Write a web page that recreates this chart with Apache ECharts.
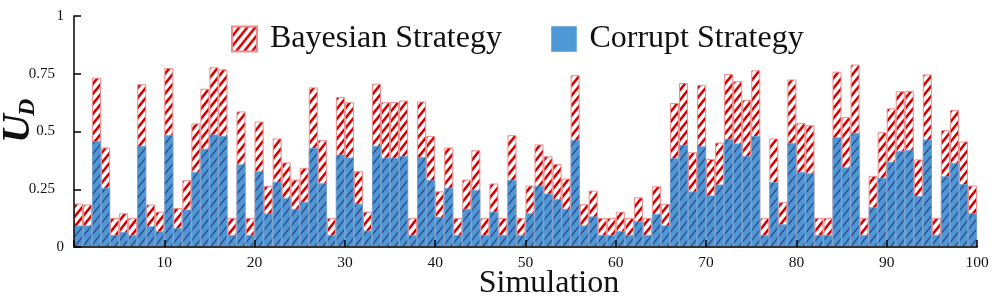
<!DOCTYPE html>
<html><head><meta charset="utf-8">
<script src="https://cdn.jsdelivr.net/npm/echarts@6/dist/echarts.min.js"></script>
<style>html,body{margin:0;padding:0;background:#fff}#c{width:997px;height:299px}</style>
</head><body><div id="c"></div>
<script>
const simulations = Array.from({length: 100}, (_, i) => String(i + 1));
const bayesian = [
  0.188,0.184,0.733,0.431,0.126,0.146,0.126,0.705,0.184,0.153,
  0.775,0.169,0.289,0.535,0.685,0.778,0.769,0.126,0.587,0.126,
  0.543,0.265,0.470,0.366,0.292,0.343,0.691,0.464,0.126,0.649,
  0.627,0.328,0.153,0.707,0.627,0.628,0.634,0.126,0.630,0.481,
  0.241,0.431,0.126,0.292,0.419,0.126,0.275,0.126,0.484,0.126,
  0.266,0.444,0.393,0.360,0.296,0.744,0.185,0.244,0.126,0.126,
  0.153,0.126,0.215,0.126,0.263,0.187,0.623,0.710,0.410,0.702,
  0.381,0.452,0.749,0.718,0.637,0.765,0.126,0.470,0.194,0.725,
  0.536,0.527,0.126,0.126,0.759,0.562,0.790,0.126,0.308,0.497,
  0.600,0.674,0.676,0.379,0.747,0.126,0.506,0.594,0.457,0.266
];
const corrupt = [
  0.093,0.093,0.458,0.256,0.052,0.065,0.052,0.438,0.090,0.069,
  0.484,0.081,0.162,0.325,0.425,0.487,0.481,0.052,0.358,0.052,
  0.328,0.145,0.282,0.212,0.165,0.195,0.429,0.276,0.052,0.400,
  0.387,0.187,0.071,0.438,0.386,0.386,0.393,0.052,0.389,0.289,
  0.130,0.256,0.052,0.165,0.247,0.052,0.153,0.052,0.290,0.052,
  0.146,0.265,0.231,0.207,0.165,0.464,0.093,0.132,0.052,0.052,
  0.069,0.052,0.111,0.052,0.143,0.093,0.385,0.442,0.240,0.436,
  0.223,0.270,0.468,0.448,0.394,0.480,0.052,0.281,0.098,0.451,
  0.325,0.319,0.052,0.052,0.475,0.344,0.494,0.052,0.172,0.299,
  0.369,0.416,0.419,0.221,0.465,0.052,0.306,0.363,0.272,0.146
];
const seriesNames = ['Bayesian Strategy', 'Corrupt Strategy'];
const yTickLabels = ['0', '0.25', '0.5', '0.75', '1'];
const xAxisTitle = 'Simulation';

function hatch(bg, fg, lw, w, h) {
  const c = document.createElement('canvas');
  c.width = w; c.height = h;
  const ctx = c.getContext('2d');
  ctx.fillStyle = bg; ctx.fillRect(0, 0, w, h);
  ctx.strokeStyle = fg; ctx.lineWidth = lw;
  for (let k = -1; k <= 1; k++) {
    ctx.beginPath();
    ctx.moveTo(k * w - w, 2 * h);
    ctx.lineTo(k * w + 2 * w, -h);
    ctx.stroke();
  }
  return c;
}
const redHatch = hatch('#ffffff', '#d20000', 2.6, 8, 10);
const blueHatch = hatch('#4f98d6', 'rgba(45,70,135,0.8)', 1.6, 8, 10);

const FONT = 'Liberation Serif';
const chart = echarts.init(document.getElementById('c'), null, {renderer: 'canvas'});
chart.setOption({
  animation: false,
  backgroundColor: '#ffffff',
  textStyle: {fontFamily: FONT},
  grid: {left: 74, right: 20, top: 16, bottom: 52},
  legend: {
    left: 231, top: 23, padding: 0, icon: 'rect',
    itemWidth: 25, itemHeight: 25, itemGap: 49,
    textStyle: {fontFamily: FONT, fontSize: 32, color: '#111', padding: [0, 0, 9, 8]},
    data: [
      {name: seriesNames[0]},
      {name: seriesNames[1], itemStyle: {color: '#4f98d6', borderColor: '#7ab0e0', borderWidth: 1}}
    ]
  },
  xAxis: [
    {type: 'category', data: simulations, show: false, boundaryGap: true},
    {type: 'value', min: 0, max: 100, interval: 10, position: 'bottom', z: 10,
      axisLine: {show: true, onZero: false, lineStyle: {color: '#333', width: 2}},
      axisTick: {show: true, inside: true, length: 7, lineStyle: {color: '#000', width: 1.5}},
      axisLabel: {fontFamily: FONT, fontSize: 15.5, color: '#111', margin: 8,
        formatter: v => v === 0 ? '' : String(v)},
      splitLine: {show: false}}
  ],
  yAxis: {
    type: 'value', min: 0, max: 1, interval: 0.25, z: 10,
    axisLine: {show: true, lineStyle: {color: '#000', width: 1.5}},
    axisTick: {show: true, inside: true, length: 7, lineStyle: {color: '#000', width: 1.5}},
    axisLabel: {fontFamily: FONT, fontSize: 15, color: '#111', margin: 10,
      formatter: v => {
        const s = yTickLabels[Math.round(v / 0.25)];
        return s.indexOf('.') >= 0 ? '{d|' + s + '}' : '{i|' + s + '}';
      },
      rich: {
        d: {fontFamily: FONT, fontSize: 15, color: '#111', padding: [0, 9, 0, 0]},
        i: {fontFamily: FONT, fontSize: 15, color: '#111'}
      }},
    splitLine: {show: false}
  },
  series: [
    {name: seriesNames[0], type: 'bar', xAxisIndex: 0, data: bayesian,
      barWidth: '100%', barGap: '-100%', barCategoryGap: '0%',
      itemStyle: {color: {image: redHatch, repeat: 'repeat'}, borderColor: '#ee8c8c', borderWidth: 1}},
    {name: seriesNames[1], type: 'bar', xAxisIndex: 0, data: corrupt,
      barWidth: '100%', barGap: '-100%', barCategoryGap: '0%',
      itemStyle: {color: {image: blueHatch, repeat: 'repeat'}, borderColor: '#6aa6da', borderWidth: 0.8}}
  ],
  graphic: [
    {type: 'text', x: 549, y: 284, style: {text: xAxisTitle, font: '32px "Liberation Serif"', fill: '#111',
      textAlign: 'center', textVerticalAlign: 'middle', align: 'center', verticalAlign: 'middle'}},
    {type: 'text', x: 19, y: 143, rotation: Math.PI / 2, style: {text: 'U', font: 'italic bold 40px "Liberation Serif"', fill: '#111',
      textAlign: 'left', textVerticalAlign: 'middle', align: 'left', verticalAlign: 'middle'}},
    {type: 'text', x: 28, y: 116, rotation: Math.PI / 2, style: {text: 'D', font: 'italic bold 24px "Liberation Serif"', fill: '#111',
      textAlign: 'left', textVerticalAlign: 'middle', align: 'left', verticalAlign: 'middle'}}
  ]
});
</script>
</body></html>
